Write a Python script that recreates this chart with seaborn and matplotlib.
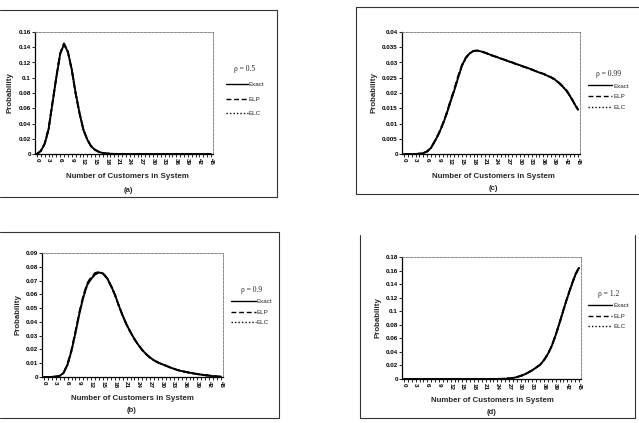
"""Distribucion del numero de clientes en el sistema: Exact vs ELP vs ELC
para cuatro valores de rho (paneles a-d)."""
import numpy as np
import pandas as pd
import matplotlib
matplotlib.use("Agg")
import matplotlib.pyplot as plt
from matplotlib.lines import Line2D
from matplotlib.ticker import FuncFormatter, MultipleLocator
import seaborn as sns

sns.set_style("ticks")
plt.rcParams["font.family"] = ["Liberation Sans", "DejaVu Sans"]
plt.rcParams["lines.solid_joinstyle"] = "round"
plt.rcParams["lines.dash_joinstyle"] = "round"

# --- datos ---------------------------------------------------------------
n_customers = list(range(46))
methods = ["Exact", "ELP", "ELC"]

# (a) rho = 0.5
exact_a = [0.000, 0.004, 0.013, 0.032, 0.066, 0.100, 0.131, 0.144, 0.134, 0.111,
           0.080, 0.054, 0.032, 0.019, 0.010, 0.0055, 0.0028, 0.0013, 0.0006, 0.0003,
           0.0001, 0, 0, 0, 0, 0, 0, 0, 0, 0,
           0, 0, 0, 0, 0, 0, 0, 0, 0, 0,
           0, 0, 0, 0, 0, 0]
elp_a = [0.000, 0.004, 0.014, 0.033, 0.067, 0.101, 0.132, 0.145, 0.134, 0.110,
         0.079, 0.053, 0.032, 0.019, 0.010, 0.0055, 0.0028, 0.0013, 0.0006, 0.0003,
         0.0001, 0, 0, 0, 0, 0, 0, 0, 0, 0,
         0, 0, 0, 0, 0, 0, 0, 0, 0, 0,
         0, 0, 0, 0, 0, 0]
elc_a = [0.000, 0.004, 0.013, 0.032, 0.066, 0.100, 0.131, 0.144, 0.134, 0.111,
         0.080, 0.054, 0.032, 0.019, 0.011, 0.0056, 0.0028, 0.0013, 0.0006, 0.0003,
         0.0001, 0, 0, 0, 0, 0, 0, 0, 0, 0,
         0, 0, 0, 0, 0, 0, 0, 0, 0, 0,
         0, 0, 0, 0, 0, 0]

# (b) rho = 0.9
exact_b = [0, 0, 0.0001, 0.0003, 0.0008, 0.003, 0.009, 0.019, 0.032, 0.046,
           0.058, 0.067, 0.0712, 0.0745, 0.0758, 0.0752, 0.072, 0.0665, 0.060, 0.052,
           0.0445, 0.038, 0.0325, 0.0275, 0.0232, 0.0195, 0.0165, 0.0140, 0.0120, 0.0105,
           0.0093, 0.0082, 0.0070, 0.0060, 0.0050, 0.0043, 0.0037, 0.0031, 0.0026, 0.0021,
           0.0017, 0.0013, 0.0010, 0.0006, 0.0004, 0.0002]
elp_b = [0, 0, 0.0001, 0.0003, 0.0009, 0.0032, 0.0095, 0.0198, 0.033, 0.047,
         0.059, 0.068, 0.0725, 0.0755, 0.0762, 0.0750, 0.0716, 0.0662, 0.0598, 0.0519,
         0.0445, 0.038, 0.0325, 0.0275, 0.0232, 0.0195, 0.0165, 0.0140, 0.0120, 0.0105,
         0.0093, 0.0082, 0.0070, 0.0060, 0.0050, 0.0043, 0.0037, 0.0031, 0.0026, 0.0021,
         0.0017, 0.0013, 0.0010, 0.0006, 0.0004, 0.0002]
elc_b = [0, 0, 0.0001, 0.0003, 0.0008, 0.003, 0.009, 0.019, 0.032, 0.046,
         0.058, 0.067, 0.0715, 0.0748, 0.0760, 0.0753, 0.0721, 0.0666, 0.0601, 0.0521,
         0.0446, 0.038, 0.0325, 0.0275, 0.0232, 0.0195, 0.0165, 0.0140, 0.0120, 0.0105,
         0.0093, 0.0082, 0.0070, 0.0060, 0.0050, 0.0043, 0.0037, 0.0031, 0.0026, 0.0021,
         0.0017, 0.0013, 0.0010, 0.0006, 0.0004, 0.0002]

# (c) rho = 0.99
exact_c = [0, 0, 0, 0, 0.0001, 0.0003, 0.0008, 0.0020, 0.0042, 0.0066,
           0.0096, 0.0130, 0.0170, 0.0208, 0.0250, 0.0290, 0.0315, 0.0330, 0.0338, 0.0339,
           0.0336, 0.0332, 0.0327, 0.0322, 0.0318, 0.0313, 0.0309, 0.0304, 0.0300, 0.0295,
           0.0291, 0.0286, 0.0282, 0.0277, 0.0272, 0.0267, 0.0263, 0.0257, 0.0251, 0.0244,
           0.0233, 0.0221, 0.0207, 0.0188, 0.0166, 0.0145]
elp_c = [0, 0, 0, 0, 0.0001, 0.0003, 0.0009, 0.0021, 0.0043, 0.0068,
         0.0098, 0.0133, 0.0174, 0.0212, 0.0255, 0.0292, 0.0316, 0.0331, 0.0338, 0.0339,
         0.0336, 0.0332, 0.0327, 0.0322, 0.0318, 0.0313, 0.0309, 0.0304, 0.0300, 0.0295,
         0.0291, 0.0286, 0.0282, 0.0277, 0.0272, 0.0267, 0.0263, 0.0258, 0.0252, 0.0245,
         0.0235, 0.0223, 0.0209, 0.0190, 0.0167, 0.0145]
elc_c = [0, 0, 0, 0, 0.0001, 0.0003, 0.0008, 0.0020, 0.0042, 0.0066,
         0.0096, 0.0131, 0.0171, 0.0209, 0.0251, 0.0290, 0.0315, 0.0330, 0.0338, 0.0339,
         0.0336, 0.0332, 0.0327, 0.0322, 0.0318, 0.0313, 0.0309, 0.0304, 0.0300, 0.0295,
         0.0291, 0.0286, 0.0282, 0.0277, 0.0272, 0.0267, 0.0263, 0.0257, 0.0251, 0.0244,
         0.0234, 0.0222, 0.0208, 0.0189, 0.0166, 0.0145]

# (d) rho = 1.2
exact_d = [0, 0, 0, 0, 0, 0, 0, 0, 0, 0,
           0, 0, 0, 0, 0, 0, 0, 0, 0, 0,
           0, 0, 0, 0, 0.0001, 0.0002, 0.0004, 0.0008, 0.0015, 0.0028,
           0.0045, 0.0068, 0.0097, 0.013, 0.017, 0.021, 0.028, 0.037, 0.049, 0.065,
           0.083, 0.102, 0.120, 0.137, 0.153, 0.164]
elp_d = [0, 0, 0, 0, 0, 0, 0, 0, 0, 0,
         0, 0, 0, 0, 0, 0, 0, 0, 0, 0,
         0, 0, 0, 0, 0.0001, 0.0002, 0.0005, 0.0009, 0.0016, 0.0029,
         0.0046, 0.0069, 0.0098, 0.013, 0.017, 0.021, 0.028, 0.037, 0.049, 0.065,
         0.083, 0.102, 0.121, 0.138, 0.154, 0.165]
elc_d = [0, 0, 0, 0, 0, 0, 0, 0, 0, 0,
         0, 0, 0, 0, 0, 0, 0, 0, 0, 0,
         0, 0, 0, 0, 0.0001, 0.0002, 0.0004, 0.0008, 0.0015, 0.0028,
         0.0045, 0.0068, 0.0097, 0.013, 0.017, 0.021, 0.028, 0.037, 0.049, 0.065,
         0.083, 0.102, 0.120, 0.137, 0.153, 0.164]

rhos = ["0.5", "0.9", "0.99", "1.2"]
captions = ["(a)", "(b)", "(c)", "(d)"]
ymax = [0.16, 0.09, 0.04, 0.18]
ystep = [0.02, 0.01, 0.005, 0.02]
series = [(exact_a, elp_a, elc_a), (exact_b, elp_b, elc_b),
          (exact_c, elp_c, elc_c), (exact_d, elp_d, elc_d)]

# --- maquetacion (pixeles de la imagen 639x423) ----------------------------
W, H = 639, 423
ax_box = [(35, 32, 213, 154), (42, 253, 223, 377),
          (402, 32, 580, 154), (402, 257, 581, 379)]
xlab_xy = [(127, 176), (132, 398), (493, 176), (492, 400)]
cap_xy = [(128, 190), (132, 410), (493, 188), (492, 412)]
ylab_xy = [(10, 93), (18, 315), (374, 93), (378, 318)]
leg_xy = [(226, 65), (231, 286), (588, 70), (588, 290)]
leg_space = [1.45, 0.8, 0.85, 0.8]
leg_hlen = [3.5, 4.0, 3.9, 3.9]
frames = [[(0, 10), (277, 10), (277, 197), (0, 197)],
          [(0, 232), (279, 232), (279, 418), (0, 418)],
          [(639, 7), (356, 7), (356, 194), (639, 194)],
          [(360, 235), (360, 418), (635, 418), (635, 235)]]

dash_map = {"Exact": "", "ELP": (3.5, 2.0), "ELC": (1.0, 1.5)}
ls_map = {"Exact": "-", "ELP": (0, (3.5, 2.0)), "ELC": (0, (1.0, 1.5))}


def fx(x):
    return x / W


def fy(y):
    return 1 - y / H


fig = plt.figure(figsize=(6.39, 4.23), dpi=100)
fig.patch.set_facecolor("white")
fmt = FuncFormatter(lambda v, _: f"{v:.3f}".rstrip("0").rstrip(".") if v else "0")

for i in range(4):
    l, t, r, b = ax_box[i]
    ax = fig.add_axes([fx(l), fy(b), (r - l) / W, (b - t) / H])
    ex, elp, elc = series[i]
    df = pd.DataFrame({"n": n_customers, "Exact": ex, "ELP": elp, "ELC": elc})
    long = df.melt(id_vars="n", var_name="method", value_name="p")
    sns.lineplot(data=long, x="n", y="p", style="method", style_order=methods,
                 dashes=dash_map, color="black", lw=1.35, ax=ax, legend=False)
    ax.set_xlim(-0.5, 45.5)
    ax.set_ylim(0, ymax[i])
    ax.xaxis.set_major_locator(MultipleLocator(3))
    ax.xaxis.set_minor_locator(MultipleLocator(1))
    ax.yaxis.set_major_locator(MultipleLocator(ystep[i]))
    ax.yaxis.set_major_formatter(fmt)
    ax.tick_params(axis="both", which="both", labelsize=4.5, length=2, width=0.6,
                   pad=1, direction="out", colors="black")
    ax.tick_params(axis="x", labelrotation=270)
    for lab in ax.get_xticklabels() + ax.get_yticklabels():
        lab.set_fontweight("bold")
    ax.set_xlabel(""); ax.set_ylabel("")
    for s in ["left", "bottom"]:
        ax.spines[s].set_color("black"); ax.spines[s].set_linewidth(0.9)
    for s in ["top", "right"]:
        ax.spines[s].set_visible(True)
        ax.spines[s].set_color("#777777"); ax.spines[s].set_linewidth(0.6)
        ax.spines[s].set_linestyle((0, (3, 1.5)))

    handles = [Line2D([], [], color="black", lw=1.0, ls=ls_map[m]) for m in methods]
    leg = ax.legend(handles, methods, title=f"ρ = {rhos[i]}", loc="upper left",
                    bbox_to_anchor=(fx(leg_xy[i][0]), fy(leg_xy[i][1])),
                    bbox_transform=fig.transFigure, frameon=False, fontsize=4.5,
                    title_fontsize=5.5, handlelength=leg_hlen[i], handletextpad=0.1,
                    labelspacing=leg_space[i], borderpad=0, borderaxespad=0)
    leg.get_title().set_family(["Liberation Serif", "DejaVu Serif"])

    fig.text(fx(xlab_xy[i][0]), fy(xlab_xy[i][1]), "Number of Customers in System",
             ha="center", va="center", fontsize=5.7, weight="bold")
    fig.text(fx(cap_xy[i][0]), fy(cap_xy[i][1]), captions[i],
             ha="center", va="center", fontsize=5.5, weight="bold")
    fig.text(fx(ylab_xy[i][0]), fy(ylab_xy[i][1]), "Probability", rotation=90,
             ha="center", va="center", fontsize=5.7, weight="bold")

    xs, ys = zip(*frames[i])
    fig.add_artist(Line2D([fx(x) for x in xs], [fy(y) for y in ys],
                          transform=fig.transFigure, color="#333333", lw=0.8))

fig.savefig("out.png", dpi=100)
plt.close(fig)
